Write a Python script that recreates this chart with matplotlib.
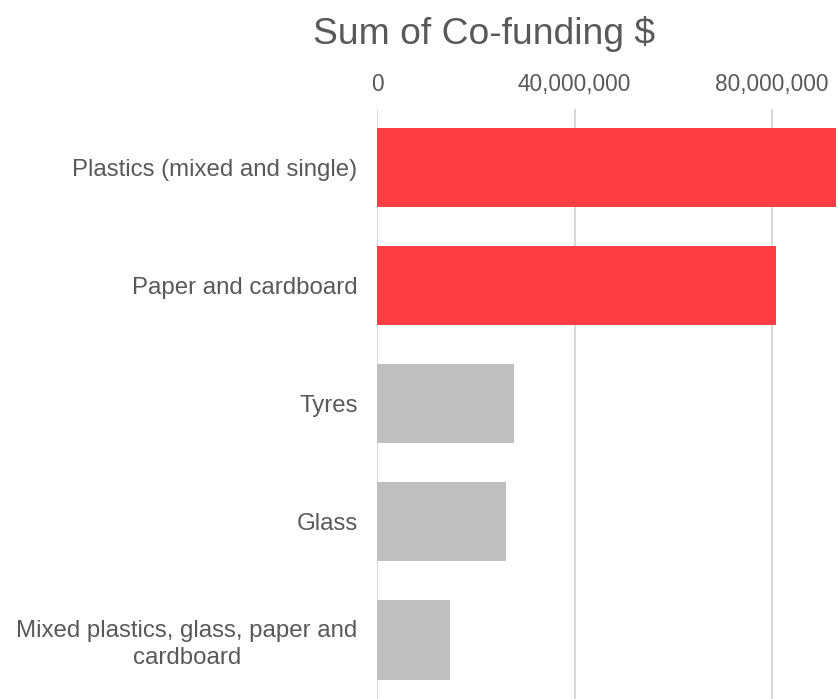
import matplotlib.pyplot as plt
from matplotlib.ticker import FuncFormatter

categories = ["Plastics (mixed and single)", "Paper and cardboard", "Tyres", "Glass",
              "Mixed plastics, glass, paper and\ncardboard"]
values = [93.0e6, 80.8e6, 27.7e6, 26.1e6, 14.8e6]
colors = ["#FC3D44", "#FC3D44", "#BFBFBF", "#BFBFBF", "#BFBFBF"]
ticks = [0, 40e6, 80e6]

plt.rcParams['font.family'] = ['Liberation Sans', 'DejaVu Sans']
grey = "#595959"

fig = plt.figure(figsize=(8.38, 6.99), dpi=100)
ax = fig.add_axes([377 / 838, 0.0, 1 - 377 / 838, 1 - 108.75 / 699])

ax.barh(range(len(categories)), values, height=0.67, color=colors, zorder=2)
ax.set_ylim(len(categories) - 0.5, -0.5)
ax.set_xlim(0, 461 / 4.9375 * 1e6)
ax.set_yticks(range(len(categories)))
ax.set_yticklabels(categories, ha='right', multialignment='center', linespacing=1.25)
ax.set_xticks(ticks)
ax.xaxis.set_major_formatter(FuncFormatter(lambda v, p: f"{v:,.0f}"))
ax.xaxis.tick_top()
ax.tick_params(axis='x', length=0, pad=9, labelsize=16.3, labelcolor=grey)
ax.tick_params(axis='y', length=0, pad=14, labelsize=17.3, labelcolor=grey)
ax.grid(axis='x', color="#D9D9D9", linewidth=1.5, zorder=0)
for s in ax.spines.values():
    s.set_visible(False)

fig.text(484 / 838, 1 - 34 / 699, "Sum of Co-funding $", ha='center', va='center',
         fontsize=26.8, color=grey)

fig.savefig("out.png", dpi=100)
